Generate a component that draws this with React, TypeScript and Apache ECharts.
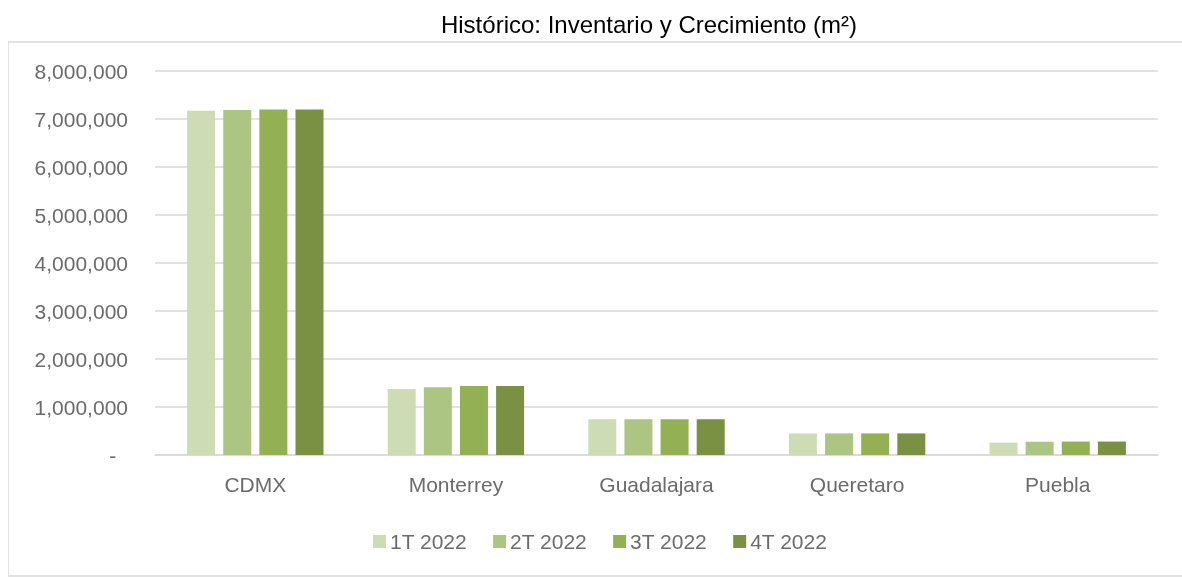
import React, { useEffect, useRef } from "react";
import * as echarts from "echarts";

const categories = ["CDMX", "Monterrey", "Guadalajara", "Queretaro", "Puebla"];
const seriesNames = ["1T 2022", "2T 2022", "3T 2022", "4T 2022"];
const q1 = [7170000, 1375000, 743000, 450000, 257000];
const q2 = [7190000, 1410000, 743000, 450000, 277000];
const q3 = [7200000, 1440000, 743000, 450000, 280000];
const q4 = [7200000, 1440000, 743000, 450000, 280000];
const colors = ["#CEDCB6", "#ADC583", "#93B054", "#7A9144"];

const FONT = "Liberation Sans";

export default function App() {
  const ref = useRef<HTMLDivElement>(null);
  useEffect(() => {
    if (!ref.current) return;
    const chart = echarts.init(ref.current, null, { renderer: "svg" });
    const data = [q1, q2, q3, q4];
    chart.setOption({
      animation: false,
      textStyle: { fontFamily: FONT },
      title: {
        text: "Histórico: Inventario y Crecimiento (m²)",
        left: 636,
        textAlign: "center",
        top: -1,
        textStyle: { fontFamily: FONT, fontSize: 24, fontWeight: "normal", color: "#000000" },
      },
      graphic: [
        {
          type: "polyline",
          shape: { points: [[1300, 34], [0, 34], [0, 568], [1300, 568]] },
          style: { fill: "none", stroke: "#d9d9d9", lineWidth: 1.5 },
          silent: true,
        },
      ],
      legend: {
        data: seriesNames,
        bottom: 20,
        left: 360,
        itemWidth: 13,
        itemHeight: 13,
        itemGap: 26,
        icon: "rect",
        textStyle: { fontFamily: FONT, fontSize: 21, color: "#6b6b6b", padding: [0, 0, 0, -1] },
      },
      grid: { left: 147, right: 24, top: 63, bottom: 122, containLabel: false },
      xAxis: {
        type: "category",
        data: categories,
        axisLine: { lineStyle: { color: "#d9d9d9", width: 1.5 } },
        axisTick: { show: false },
        axisLabel: { fontFamily: FONT, fontSize: 21, color: "#6b6b6b", margin: 19 },
      },
      yAxis: {
        type: "value",
        min: 0,
        max: 8000000,
        interval: 1000000,
        axisLine: { show: false },
        axisTick: { show: false },
        splitLine: { lineStyle: { color: "#d9d9d9", width: 1.5 } },
        axisLabel: {
          fontFamily: FONT,
          fontSize: 21,
          color: "#6b6b6b",
          margin: 27,
          formatter: (v: number) => (v === 0 ? "-  " : v.toLocaleString("en-US")),
        },
      },
      series: seriesNames.map((name, i) => ({
        name,
        type: "bar",
        data: data[i],
        barGap: "29%",
        barCategoryGap: "32%",
        itemStyle: { color: colors[i] },
      })),
    });
    return () => chart.dispose();
  }, []);
  return (
    <div
      ref={ref}
      style={{ position: "fixed", left: 8, top: 8, width: 1174, height: 569 }}
    />
  );
}
